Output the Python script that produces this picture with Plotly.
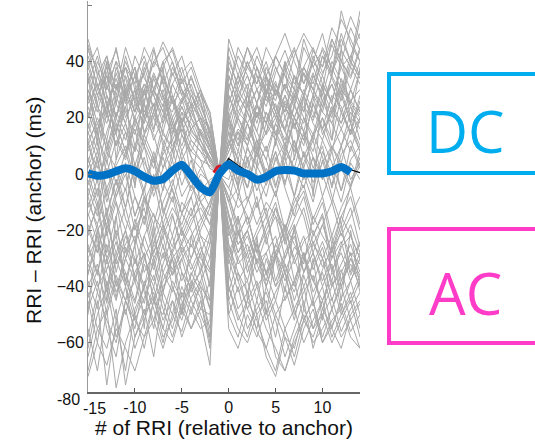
import plotly.graph_objects as go

# Beat index relative to the anchor beat
beat_index = list(range(-15, 15))

# Individual RRI traces (ms), each referenced to the anchor RRI
rri_traces = [
    [12, 18, 9, 22, 15, 8, 19, 25, 14, 10, 16, 8, 5, 3, 0, 10, 22, 18, 25, 14, 20, 28, 17, 24, 19, 30, 22, 18, 26, 21],
    [-20, -28, -15, -32, -25, -18, -30, -22, -35, -27, -20, -26, -18, -10, 0, -14, -25, -20, -31, -28, -22, -35, -26, -30, -24, -33, -27, -21, -29, -25],
    [40, 28, 35, 20, 30, 38, 25, 44, 32, 20, 27, 15, 12, 6, 0, 18, 30, 24, 38, 29, 42, 35, 27, 45, 38, 30, 48, 40, 52, 44],
    [-45, -60, -38, -52, -70, -48, -40, -55, -35, -42, -30, -25, -32, -45, 0, -30, -42, -38, -50, -45, -58, -40, -52, -36, -47, -40, -55, -44, -38, -50],
    [5, -3, 8, 2, -6, 10, 4, -2, 7, 12, 3, -5, 2, -4, 0, 6, -2, 9, 3, -4, 5, 11, 0, 7, -3, 4, 10, 2, -5, 6],
    [25, 32, 20, 38, 27, 35, 22, 30, 40, 28, 18, 24, 14, 8, 0, 25, 35, 28, 20, 32, 26, 38, 30, 22, 35, 28, 40, 33, 25, 37],
    [-10, -18, -5, -22, -12, -25, -8, -15, -20, -12, -18, -8, -22, -30, 0, -5, -12, -8, -18, -10, -15, -22, -12, -6, -18, -10, -25, -15, -8, -20],
    [45, 30, 42, 25, 38, 32, 20, 35, 28, 15, 22, 18, 10, 5, 0, 30, 45, 38, 32, 40, 28, 36, 44, 35, 30, 42, 36, 50, 40, 34],
    [-30, -22, -40, -28, -35, -45, -30, -38, -25, -40, -48, -35, -42, -55, 0, -20, -32, -28, -40, -35, -30, -45, -38, -28, -42, -35, -48, -38, -32, -40],
    [15, 5, 22, 10, 18, 3, 14, 25, 10, 20, 8, 16, 20, 12, 0, 12, 5, 18, 8, 15, 22, 10, 18, 6, 14, 20, 9, 16, 24, 12],
    [-55, -70, -48, -76, -60, -50, -62, -45, -55, -40, -50, -38, -44, -60, 0, -35, -48, -42, -56, -62, -70, -55, -48, -60, -52, -45, -58, -50, -42, -55],
    [30, 22, 35, 28, 40, 32, 45, 38, 47, 40, 30, 25, 20, 10, 0, 20, 28, 22, 30, 35, 28, 40, 32, 38, 45, 36, 42, 55, 48, 40],
    [0, 8, -5, 3, 10, -2, 6, -8, 2, 9, -4, 5, -10, -15, 0, 8, 15, 5, 12, 0, 8, -3, 6, 14, 2, 10, -5, 7, 12, 3],
    [-35, -25, -42, -30, -20, -38, -28, -45, -32, -22, -35, -40, -28, -20, 0, -40, -52, -45, -38, -50, -42, -35, -48, -40, -55, -45, -38, -50, -44, -36],
    [20, 35, 25, 15, 30, 22, 38, 28, 18, 32, 25, 35, 25, 15, 0, 40, 32, 45, 35, 28, 42, 35, 30, 48, 38, 44, 35, 58, 46, 40],
    [-15, -5, -22, -10, -28, -18, -8, -25, -15, -5, -20, -12, -25, -40, 0, -22, -15, -28, -20, -12, -30, -18, -25, -32, -15, -22, -28, -18, -35, -24],
    [10, 20, 12, 28, 18, 30, 15, 22, 35, 25, 30, 20, 15, 8, 0, 5, 15, 10, 22, 18, 12, 25, 20, 15, 28, 22, 18, 30, 25, 20],
    [-62, -45, -75, -52, -40, -58, -48, -65, -42, -50, -35, -45, -52, -68, 0, -45, -55, -60, -50, -65, -72, -58, -62, -48, -55, -50, -60, -52, -45, -58],
    [38, 45, 30, 40, 25, 35, 42, 30, 38, 45, 35, 28, 22, 15, 0, 35, 25, 40, 32, 45, 38, 30, 42, 50, 44, 38, 52, 45, 56, 48],
    [-5, -15, 2, -10, -20, -8, -18, 0, -12, -22, -10, -15, -5, -12, 0, -10, -5, -18, -8, -25, -12, -20, -8, -15, -28, -18, -10, -22, -15, -8],
    [28, 15, 32, 20, 12, 25, 18, 30, 22, 14, 26, 30, 18, 10, 0, 15, 28, 35, 25, 18, 30, 22, 35, 28, 20, 32, 26, 38, 30, 22],
    [-40, -32, -50, -38, -45, -30, -42, -52, -40, -35, -28, -38, -48, -50, 0, -28, -38, -32, -45, -30, -40, -35, -50, -42, -36, -48, -40, -34, -46, -38],
    [8, 15, 0, 12, 5, 18, 10, 2, 15, 8, 22, 12, 8, 2, 0, 20, 12, 25, 15, 8, 18, 28, 20, 12, 25, 16, 22, 30, 18, 24],
    [-25, -35, -20, -40, -30, -22, -35, -28, -18, -30, -25, -32, -40, -58, 0, -15, -25, -20, -32, -22, -38, -28, -20, -35, -25, -30, -22, -38, -28, -32],
    [44, 38, 25, 32, 20, 28, 36, 22, 30, 18, 26, 32, 22, 12, 0, 48, 38, 30, 42, 34, 28, 38, 45, 32, 40, 50, 36, 44, 38, 55],
    [-12, -2, -20, -8, 0, -15, -5, -22, -10, -2, -14, -20, -30, -35, 0, 2, -8, 5, -12, -3, 8, -5, -15, 0, -10, 5, -8, -18, -4, 3],
    [18, 8, 25, 14, 28, 20, 10, 22, 15, 28, 18, 10, 5, -5, 0, 28, 20, 12, 25, 35, 22, 15, 28, 20, 12, 24, 32, 22, 15, 28],
    [-48, -38, -55, -65, -45, -55, -38, -48, -60, -45, -52, -40, -35, -48, 0, -50, -40, -55, -48, -42, -52, -65, -55, -45, -62, -50, -44, -56, -48, -42],
    [2, 12, -8, 5, 15, 0, 10, -5, 8, 18, 5, 12, 8, 5, 0, -5, 5, -10, 2, 10, -4, 6, -8, 4, 12, -2, 8, -6, 5, 10],
    [32, 42, 28, 20, 35, 26, 40, 30, 22, 36, 28, 20, 28, 18, 0, 22, 32, 40, 30, 24, 36, 44, 34, 28, 40, 35, 46, 38, 42, 35],
    [-20, -12, -30, -22, -38, -25, -15, -30, -42, -28, -20, -30, -22, -25, 0, -32, -22, -15, -28, -35, -25, -18, -32, -24, -20, -30, -38, -26, -22, -30],
    [-70, -55, -62, -48, -75, -58, -50, -40, -52, -45, -58, -48, -40, -45, 0, -55, -62, -50, -58, -48, -65, -70, -60, -52, -58, -48, -55, -62, -50, -45],
    [22, 12, 28, 18, 8, 20, 30, 16, 25, 12, 20, 14, 10, 6, 0, 10, 20, 14, 6, 18, 25, 15, 8, 20, 14, 26, 18, 10, 22, 16],
    [-8, 5, -15, -2, -12, 3, -8, -18, -5, 5, -8, -2, -15, -22, 0, -18, -28, -20, -10, -22, -15, -30, -20, -12, -25, -18, -28, -15, -22, -30],
    [36, 25, 40, 30, 45, 35, 28, 40, 45, 35, 42, 30, 24, 16, 0, 32, 22, 28, 35, 26, 33, 20, 28, 36, 30, 24, 35, 28, 40, 34],
    [-38, -48, -30, -42, -35, -50, -40, -32, -45, -55, -42, -50, -38, -30, 0, -45, -35, -48, -55, -40, -50, -44, -38, -52, -45, -58, -48, -40, -52, -46],
    [-2, -12, 5, -8, 2, -15, -5, 8, -3, -10, 2, -6, -2, -8, 0, 12, 2, -5, 8, 0, -8, 4, 12, -2, 6, 0, -10, 4, -4, 8],
    [14, 25, 8, 20, 32, 18, 25, 12, 20, 28, 15, 22, 30, 20, 0, 38, 28, 22, 15, 28, 20, 12, 24, 18, 28, 14, 22, 32, 24, 18],
    [-28, -18, -35, -45, -30, -38, -22, -32, -20, -28, -38, -30, -20, -12, 0, -8, -20, -30, -22, -15, -28, -38, -30, -22, -34, -26, -40, -32, -25, -35],
    [48, 35, 42, 30, 38, 25, 32, 28, 20, 32, 38, 26, 18, 10, 0, 25, 35, 45, 38, 30, 22, 32, 26, 38, 32, 45, 38, 30, 42, 50],
    [35, 10, 40, 5, 30, -5, 25, 15, 38, 8, 20, -2, 15, 4, 0, 22, -5, 30, 2, 35, 10, 40, 5, 28, -8, 32, 12, 45, 18, 38],
    [-50, -20, -45, -15, -40, -25, -55, -18, -42, -30, -50, -22, -35, -25, 0, -38, -15, -45, -22, -50, -28, -42, -18, -48, -30, -52, -25, -45, -20, -40],
    [10, 2, 15, 25, 18, 8, 30, 20, 12, 5, 18, 25, 12, 6, 0, 30, 42, 35, 25, 38, 30, 22, 35, 28, 42, 32, 25, 40, 35, 45],
    [-18, -28, -12, -35, -22, -30, -40, -25, -30, -15, -25, -18, -10, -6, 0, -25, -35, -42, -30, -38, -25, -32, -45, -35, -28, -40, -32, -48, -38, -30],
    [26, 40, 32, 45, 28, 38, 20, 30, 24, 38, 30, 22, 15, 10, 0, 15, 8, 22, 12, 5, 18, 10, 25, 15, 8, 20, 12, 28, 18, 10],
    [-32, -42, -25, -38, -50, -35, -28, -45, -38, -30, -44, -36, -28, -40, 0, -10, -22, -15, -28, -20, -12, -25, -18, -30, -22, -15, -35, -25, -18, -28],
    [6, -8, 12, -4, 8, 16, 2, -6, 10, 0, 14, 6, 2, 8, 0, -8, -18, -10, -2, -15, -6, -20, -10, -4, -16, -8, -22, -12, -5, -18],
    [-65, -50, -40, -58, -48, -62, -52, -42, -55, -60, -48, -55, -45, -62, 0, -25, -38, -48, -40, -52, -45, -55, -65, -52, -45, -60, -52, -48, -58, -62],
    [42, 32, 22, 36, 26, 42, 34, 28, 40, 44, 32, 38, 28, 22, 0, 10, 20, 28, 18, 30, 24, 16, 30, 22, 35, 28, 20, 34, 26, 30],
    [-22, -10, -28, -15, -5, -20, -12, -28, -18, -8, -22, -14, -8, -4, 0, -20, -30, -25, -35, -28, -40, -30, -22, -35, -28, -38, -30, -24, -36, -28],
    [16, 28, 22, 10, 24, 30, 14, 20, 28, 18, 10, 20, 12, 4, 0, 18, 10, 24, 30, 20, 14, 26, 20, 30, 22, 16, 28, 24, 14, 26],
    [-42, -55, -48, -36, -45, -52, -58, -45, -50, -38, -45, -55, -48, -38, 0, -42, -30, -38, -25, -35, -45, -32, -40, -28, -38, -30, -45, -35, -28, -42],
    [-4, 6, -10, 2, -12, 4, -6, 6, -14, -4, 8, -2, -6, -2, 0, 4, -4, 6, -6, 2, -8, 8, 2, -5, 6, -8, 2, 10, -2, 4],
    [30, 18, 24, 34, 22, 14, 26, 36, 28, 16, 24, 16, 10, 2, 0, -10, 5, -5, 10, -2, 12, 2, -8, 8, 0, 12, 4, -6, 10, 2],
    [-58, -42, -52, -60, -45, -38, -50, -44, -58, -52, -40, -48, -55, -52, 0, -15, -28, -22, -32, -40, -28, -35, -42, -30, -38, -45, -35, -40, -30, -38],
    [20, 30, 38, 25, 42, 30, 36, 45, 32, 40, 28, 34, 26, 14, 0, 8, 16, 12, 24, 18, 30, 24, 16, 28, 36, 26, 32, 22, 30, 40],
    [-26, -36, -18, -28, -20, -32, -22, -14, -26, -34, -24, -16, -12, -18, 0, 20, 10, 18, 8, 22, 14, 6, 20, 12, 25, 16, 8, 22, 14, 20],
    [4, 16, 24, 14, 6, 20, 12, 4, 18, 26, 14, 8, 16, 10, 0, -30, -20, -35, -25, -40, -30, -22, -38, -28, -45, -34, -26, -40, -30, -36],
    [-14, -24, -32, -20, -30, -16, -26, -34, -22, -14, -28, -22, -16, -10, 0, 35, 25, 32, 20, 28, 38, 30, 24, 36, 28, 42, 34, 26, 38, 32],
    [34, 24, 18, 30, 38, 26, 20, 34, 26, 22, 34, 24, 30, 22, 0, -20, -8, -15, -28, -18, -10, -24, -16, -8, -22, -14, -30, -20, -12, -26],
    [-44, -34, -46, -30, -40, -52, -44, -36, -48, -58, -46, -40, -50, -58, 0, 5, -5, 10, 0, -8, 6, -4, 12, 2, -6, 8, 0, -10, 4, -2],
    [12, -2, 6, 18, 8, -4, 14, 6, -6, 8, 18, 6, -4, -8, 0, 45, 35, 25, 38, 28, 20, 32, 25, 38, 30, 22, 35, 48, 40, 58],
    [-36, -20, -30, -44, -26, -36, -46, -30, -22, -36, -30, -42, -34, -22, 0, -50, -58, -45, -52, -62, -50, -58, -68, -55, -48, -60, -54, -46, -56, -50],
    [46, 36, 30, 40, 34, 22, 30, 40, 36, 26, 36, 40, 30, 12, 0, 12, 25, 18, 10, 22, 15, 8, 20, 28, 18, 12, 24, 16, 8, 20],
    [-8, -20, -14, -2, -16, -24, -10, -2, -18, -26, -14, -4, -10, -18, 0, -2, 8, 2, 12, 5, -5, 10, 2, 15, 6, -2, 10, 4, 16, 8],
    [24, 14, 4, 16, 24, 10, 20, 14, 2, 14, 24, 16, 20, 16, 0, 28, 18, 10, 22, 14, 32, 24, 18, 10, 26, 35, 25, 18, 30, 22],
    [-72, -60, -68, -55, -62, -70, -58, -52, -62, -50, -56, -44, -38, -48, 0, -40, -50, -58, -45, -55, -62, -70, -58, -50, -60, -55, -48, -58, -52, -62],
    [0, -10, -18, -6, 4, -8, -16, -4, 6, -6, -14, -8, 0, -3, 0, 15, 5, -5, 8, -2, 12, 20, 10, 2, 14, 6, -4, 10, 18, 8],
    [38, 28, 36, 44, 30, 22, 32, 24, 34, 26, 18, 28, 20, 8, 0, 42, 30, 38, 45, 35, 42, 50, 40, 32, 44, 38, 48, 40, 34, 44],
    [-30, -40, -34, -24, -38, -46, -32, -40, -28, -36, -26, -34, -26, -34, 0, -28, -20, -32, -24, -36, -28, -20, -30, -40, -32, -24, -34, -28, -38, -30],
]

# Averaged response (thick blue) and its thin black companion
mean_index = list(range(-15, 14))
mean_rri = [0.2, -0.6, -0.2, 1, 2, 1, -1, -2.4, -1.8, 1.2, 3.3, -0.5, -4.7, -6.5, 0,
            3.5, 1.2, 0, -2, -1, 1, 1.4, 1.2, 0.2, 0.2, 0.2, 1, 2.5, 0.6]
black_rri = [0.5, -0.2, 0.3, 1.8, 3, 1.8, -0.4, -1.8, -1, 2, 4.5, 0.5, -4, -6, 0.5,
             5.5, 3, 1, -1.2, -0.2, 1.8, 2, 1.8, 0.8, 0.6, 0.6, 1.5, 3.2, 1.5, 0.5]
# Anchor marker
anchor_x = [-1.6, -1.2, -0.8]
anchor_y = [0.5, 2.5, 3.0]

y_ticks = [-60, -40, -20, 0, 20, 40, 60]
x_ticks = [-15, -10, -5, 0, 5, 10]
x_tick_text = ["", "-10", "-5", "0", "5", "10"]

GRAY = "rgb(168,168,168)"
BLUE = "rgb(0,114,198)"
DC_COLOR = "#00AEEF"
AC_COLOR = "#FF3CC8"

W, H = 535, 440
ML, MR, MT, MB = 88, 175, 1, 48
PW, PH = W - ML - MR, H - MT - MB


def px(p):
    return (p - ML) / PW


def py(q):
    return (H - MB - q) / PH


fig = go.Figure()
for tr in rri_traces:
    fig.add_trace(go.Scatter(x=beat_index, y=tr, mode="lines",
                             line=dict(color=GRAY, width=1), hoverinfo="skip",
                             showlegend=False))
fig.add_trace(go.Scatter(x=anchor_x, y=anchor_y, mode="lines",
                         line=dict(color="rgb(210,30,40)", width=3), showlegend=False))
fig.add_trace(go.Scatter(x=beat_index, y=black_rri, mode="lines",
                         line=dict(color="black", width=1.2), showlegend=False))
fig.add_trace(go.Scatter(x=mean_index, y=mean_rri, mode="lines",
                         line=dict(color=BLUE, width=8, shape="spline", smoothing=0.6),
                         showlegend=False))

tick_font = dict(family="Liberation Sans, Arial, sans-serif", size=16, color="#111")
title_font = dict(family="Liberation Sans, Arial, sans-serif", size=21, color="#111")

fig.update_xaxes(range=[-15, 14], tickvals=x_ticks, ticktext=x_tick_text,
                 ticks="inside", ticklen=4, tickcolor="#555", showline=True,
                 linecolor="#666", linewidth=2, showgrid=False, zeroline=False,
                 tickfont=tick_font)
fig.update_yaxes(range=[-77.5, 61.5], tickvals=y_ticks, ticks="inside", ticklen=4,
                 tickcolor="#777", showline=True, linecolor="#999", linewidth=1,
                 showgrid=False, zeroline=False, tickfont=tick_font)

annotations = [
    dict(text="-80", x=px(82), y=py(399), xref="paper", yref="paper",
         xanchor="right", yanchor="middle", showarrow=False, font=tick_font),
    dict(text="-15", x=px(94), y=py(408), xref="paper", yref="paper",
         xanchor="center", yanchor="middle", showarrow=False, font=tick_font),
    dict(text="# of RRI (relative to anchor)", x=px(224), y=py(427), xref="paper",
         yref="paper", xanchor="center", yanchor="middle", showarrow=False,
         font=title_font),
    dict(text="RRI \u2013 RRI (anchor) (ms)", x=px(33), y=py(210), xref="paper",
         yref="paper", xanchor="center", yanchor="middle", textangle=-90,
         showarrow=False, font=title_font),
    dict(text="DC", x=px(465), y=py(131), xref="paper", yref="paper",
         xanchor="center", yanchor="middle", showarrow=False,
         font=dict(family="Open Sans, sans-serif", size=58, color=DC_COLOR)),
    dict(text="AC", x=px(465), y=py(292), xref="paper", yref="paper",
         xanchor="center", yanchor="middle", showarrow=False,
         font=dict(family="Open Sans, sans-serif", size=58, color=AC_COLOR)),
]

shapes = [
    dict(type="rect", xref="paper", yref="paper", x0=px(389), x1=px(560),
         y0=py(74), y1=py(173), line=dict(color=DC_COLOR, width=4)),
    dict(type="rect", xref="paper", yref="paper", x0=px(389), x1=px(560),
         y0=py(229), y1=py(343), line=dict(color=AC_COLOR, width=4)),
]

fig.update_layout(width=W, height=H, margin=dict(l=ML, r=MR, t=MT, b=MB),
                  plot_bgcolor="white", paper_bgcolor="white",
                  annotations=annotations, shapes=shapes, showlegend=False)

fig.write_html("out.html")
